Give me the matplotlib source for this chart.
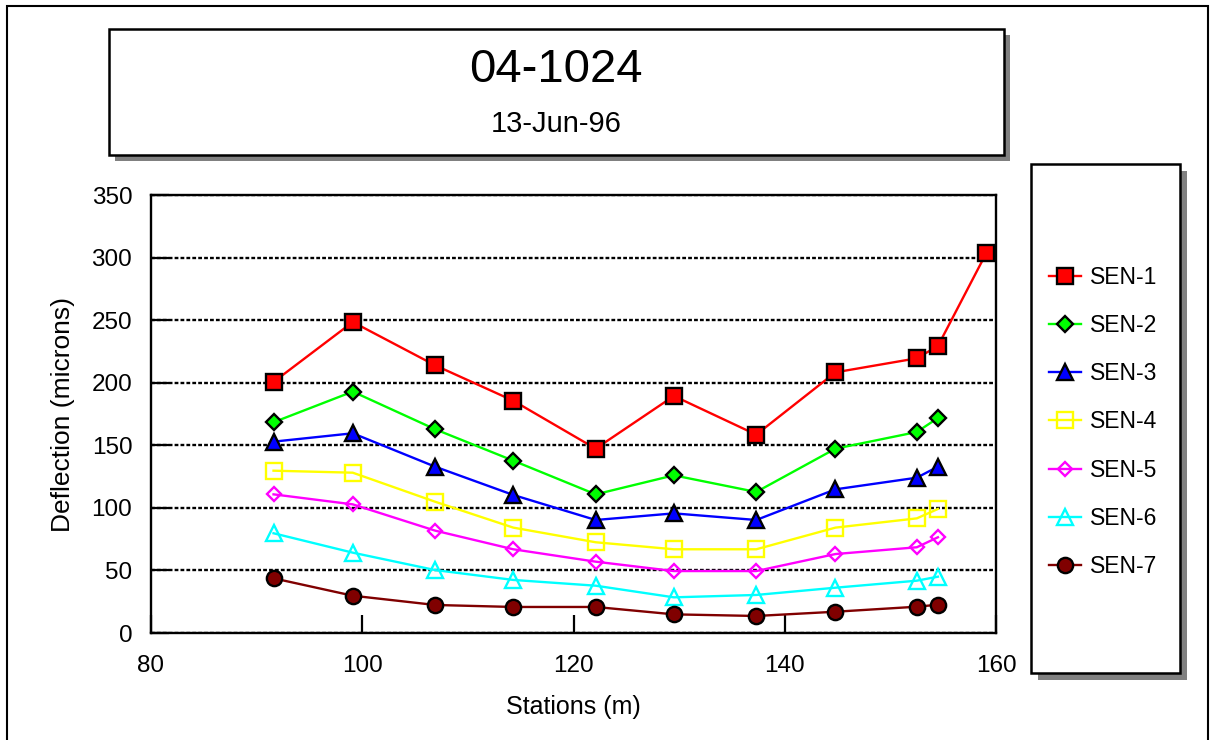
import matplotlib
matplotlib.use("Agg")
import matplotlib.pyplot as plt
from matplotlib.patches import Rectangle

plt.rcParams['font.family'] = ['Liberation Sans', 'DejaVu Sans']

# Station positions (m) and deflections (microns) for each sensor
stations = [91.6, 99.1, 106.9, 114.3, 122.1, 129.5, 137.3, 144.8, 152.5, 154.5, 159.1]
sen1 = [200.6, 248.5, 213.9, 185.6, 147.3, 189.4, 158.5, 208.3, 219.5, 229.3, 303.9]
sen2 = [168.4, 192.9, 162.8, 137.7, 110.8, 126.0, 112.7, 147.3, 160.6, 171.8]
sen3 = [152.9, 159.6, 132.9, 110.3, 90.3, 95.6, 90.3, 114.8, 124.1, 132.9]
sen4 = [129.7, 128.1, 104.9, 84.2, 72.5, 66.9, 66.9, 84.2, 91.6, 99.1]
sen5 = [110.8, 102.8, 81.8, 66.9, 57.0, 49.5, 49.5, 63.1, 68.5, 76.5]
sen6 = [79.7, 64.2, 50.3, 42.4, 37.8, 28.5, 30.4, 36.2, 41.8, 45.0]
sen7 = [43.7, 29.8, 22.4, 20.8, 20.8, 14.9, 13.6, 17.0, 21.0, 22.6]

series_names = ['SEN-1', 'SEN-2', 'SEN-3', 'SEN-4', 'SEN-5', 'SEN-6', 'SEN-7']
series_values = [sen1, sen2, sen3, sen4, sen5, sen6, sen7]

x_ticks = [80, 100, 120, 140, 160]
y_ticks = [0, 50, 100, 150, 200, 250, 300, 350]

chart_title = '04-1024'
chart_date = '13-Jun-96'

# marker, face colour, edge colour, line colour, marker size
styles = [
    ('s', '#FF0000', 'black', '#FF0000', 11.5),
    ('D', '#00FF00', 'black', '#00FF00', 7.8),
    ('^', '#0000FF', 'black', '#0000FF', 11.5),
    ('s', 'none', '#FFFF00', '#FFFF00', 11),
    ('D', 'none', '#FF00FF', '#FF00FF', 7.5),
    ('^', 'none', '#00FFFF', '#00FFFF', 11),
    ('o', '#800000', 'black', '#800000', 11),
]

W, H = 1214, 740
fig = plt.figure(figsize=(W / 100, H / 100), dpi=100)


def fx(px):
    return px / W


def fy(py):
    return 1 - py / H


def framed_box(x0, y0, x1, y1, shadow, lw):
    fig.add_artist(Rectangle((fx(x0 + shadow), fy(y1 + shadow)), (x1 - x0) / W, (y1 - y0) / H,
                             transform=fig.transFigure, facecolor='#808080',
                             edgecolor='none', zorder=0.5))
    fig.add_artist(Rectangle((fx(x0), fy(y1)), (x1 - x0) / W, (y1 - y0) / H,
                             transform=fig.transFigure, facecolor='white',
                             edgecolor='black', lw=lw, zorder=0.6))


# outer chart border
fig.add_artist(Rectangle((fx(7), fy(746)), (1208 - 7) / W, (746 - 6) / H,
                         transform=fig.transFigure, facecolor='none',
                         edgecolor='black', lw=1.5, zorder=3))

# title panel
framed_box(109, 29, 1004, 155, 6, 1.8)
fig.text(fx(556), fy(82), chart_title, ha='center', va='baseline', fontsize=34, zorder=4)
fig.text(fx(556), fy(132), chart_date, ha='center', va='baseline', fontsize=21, zorder=4)

# legend panel
framed_box(1031, 164, 1180, 673, 7, 1.8)

ax = fig.add_axes([fx(151), fy(633), (996 - 151) / W, (633 - 195) / H])

handles = []
for name, vals, (mk, fc, ec, lc, ms) in zip(series_names, series_values, styles):
    h, = ax.plot(stations[:len(vals)], vals, color=lc, lw=1.7, marker=mk,
                 markersize=ms, markerfacecolor=fc, markeredgecolor=ec,
                 markeredgewidth=1.7, label=name, zorder=3)
    handles.append(h)

ax.set_xlim(80, 160)
ax.set_ylim(0, 350)
ax.set_xticks(x_ticks)
ax.set_yticks(y_ticks)
ax.tick_params(axis='both', direction='in', width=1.6, labelsize=17.5, colors='black')
ax.tick_params(axis='y', length=13, pad=13.5)
ax.tick_params(axis='x', length=13, pad=16)
for s in ax.spines.values():
    s.set_linewidth(1.7)
    s.set_color('black')

ax.set_axisbelow(True)
ax.yaxis.grid(True, color='black', linestyle=(0, (1.6, 0.9)), linewidth=1.7)

ax.set_xlabel('Stations (m)', fontsize=18, labelpad=13)
ax.set_ylabel('Deflection (microns)', fontsize=19, labelpad=12)

fig.legend(handles, series_names, loc='center left',
           bbox_to_anchor=(fx(1049), fy(422)), bbox_transform=fig.transFigure,
           frameon=False, borderpad=0, borderaxespad=0, handlelength=1.4,
           handletextpad=0.4, labelspacing=1.10, fontsize=16.5)

fig.savefig('out.png', dpi=100)
